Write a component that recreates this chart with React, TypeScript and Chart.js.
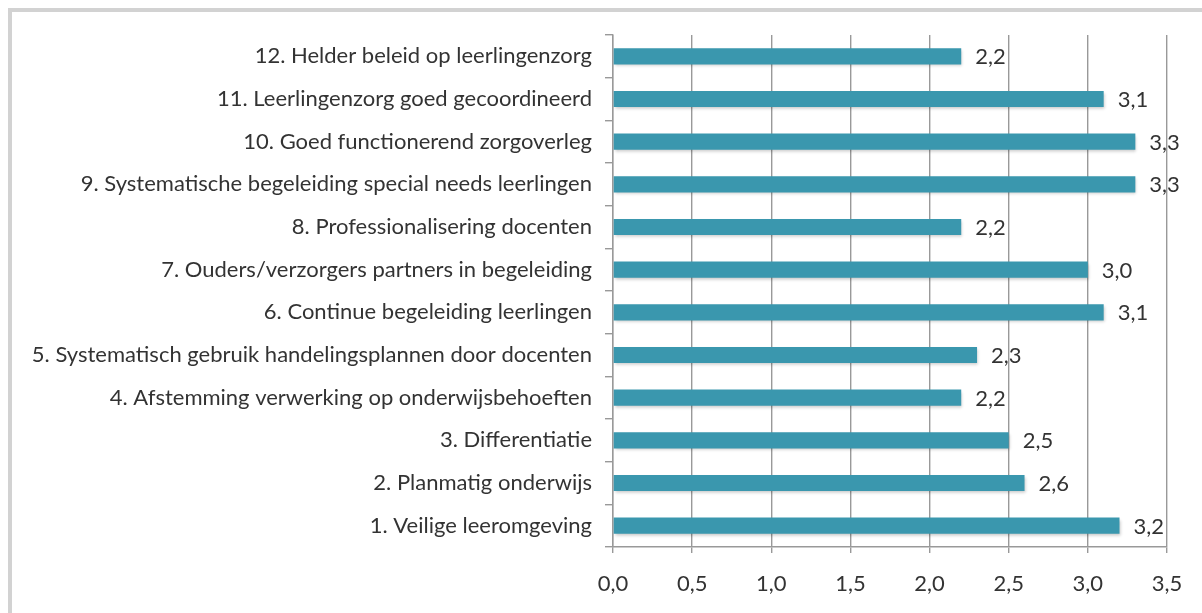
import React, { useEffect, useRef } from "react";
import { Chart, registerables } from "chart.js";

Chart.register(...registerables);

const categories = [
  "12. Helder beleid op leerlingenzorg",
  "11. Leerlingenzorg goed gecoordineerd",
  "10. Goed functionerend zorgoverleg",
  "9. Systematische begeleiding special needs leerlingen",
  "8. Professionalisering docenten",
  "7. Ouders/verzorgers partners in begeleiding",
  "6. Continue begeleiding leerlingen",
  "5. Systematisch gebruik handelingsplannen door docenten",
  "4. Afstemming verwerking op onderwijsbehoeften",
  "3. Differentiatie",
  "2. Planmatig onderwijs",
  "1. Veilige leeromgeving",
];

const scores = [2.2, 3.1, 3.3, 3.3, 2.2, 3.0, 3.1, 2.3, 2.2, 2.5, 2.6, 3.2];

const xMin = 0;
const xMax = 3.5;
const xStep = 0.5;

const FONT = "Lato, 'Noto Sans', sans-serif";
const FONT_SIZE = 22;
const fmt = (v: number) => v.toFixed(1).replace(".", ",");

const valueLabels = {
  id: "valueLabels",
  afterDatasetsDraw(chart: any) {
    const ctx = chart.ctx;
    const meta = chart.getDatasetMeta(0);
    ctx.save();
    ctx.font = `${FONT_SIZE}px ${FONT}`;
    ctx.fillStyle = "#333333";
    ctx.textAlign = "left";
    ctx.textBaseline = "middle";
    meta.data.forEach((bar: any, i: number) => {
      ctx.fillText(fmt(chart.data.datasets[0].data[i]), bar.x + 14, bar.y + 1);
    });
    ctx.restore();
  },
};

const barShadow = {
  id: "barShadow",
  beforeDatasetDraw(chart: any) {
    const ctx = chart.ctx;
    ctx.save();
    ctx.shadowColor = "rgba(0,0,0,0.22)";
    ctx.shadowBlur = 3;
    ctx.shadowOffsetY = 2;
    ctx.shadowOffsetX = 1;
  },
  afterDatasetDraw(chart: any) {
    chart.ctx.restore();
  },
};

export default function App() {
  const ref = useRef<HTMLCanvasElement>(null);
  useEffect(() => {
    if (!ref.current) return;
    const chart = new Chart(ref.current, {
      type: "bar",
      data: {
        labels: categories,
        datasets: [
          {
            data: scores,
            backgroundColor: "#3a97ae",
            barPercentage: 0.38,
            categoryPercentage: 1,
          },
        ],
      },
      options: {
        indexAxis: "y",
        animation: false,
        responsive: false,
        maintainAspectRatio: false,
        layout: { padding: { top: 35, right: 35, left: 0, bottom: 0 } },
        plugins: { legend: { display: false }, tooltip: { enabled: false } },
        scales: {
          x: {
            min: xMin,
            max: xMax,
            ticks: {
              stepSize: xStep,
              color: "#333333",
              font: { family: FONT, size: FONT_SIZE },
              padding: 18,
              callback: (v: any) => fmt(Number(v)),
            },
            grid: { color: "#999999", lineWidth: 1.4, tickLength: 6 },
            border: { color: "#999999", width: 1.4 },
            afterFit: (s: any) => {
              s.height = 66;
            },
          },
          y: {
            ticks: {
              color: "#333333",
              font: { family: FONT, size: FONT_SIZE },
              padding: 13,
              autoSkip: false,
            },
            grid: { drawOnChartArea: false, color: "#999999", lineWidth: 1.4, tickLength: 8, offset: true },
            border: { color: "#999999", width: 1.4 },
            afterFit: (s: any) => {
              s.width = 613;
            },
          },
        },
      },
      plugins: [barShadow, valueLabels],
    });
    return () => chart.destroy();
  }, []);
  return (
    <div style={{ position: "fixed", left: 0, top: 0, width: 1202, height: 613, background: "#fff" }}>
      <div
        style={{
          position: "absolute",
          left: 8,
          top: 8,
          width: 1194,
          height: 605,
          borderTop: "4px solid #d2d2d2",
          borderLeft: "4px solid #d2d2d2",
          boxSizing: "border-box",
        }}
      />
      <canvas ref={ref} width={1202} height={613} style={{ position: "absolute", left: 0, top: 0 }} />
    </div>
  );
}
